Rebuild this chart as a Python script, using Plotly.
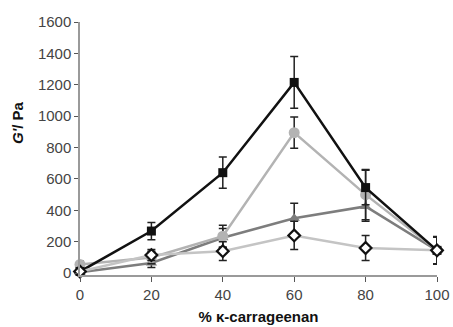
import plotly.graph_objects as go

x = [0, 20, 40, 60, 80, 100]

sq_y = [10, 268, 640, 1215, 545, 145]
sq_err = [15, 55, 100, 165, 110, 85]

circ_y = [55, 100, 235, 895, 500, 145]
circ_err = [20, 40, 70, 100, 160, 85]

tri_y = [5, 65, 225, 350, 425, 145]
tri_err = [15, 30, 60, 95, 95, 85]

dia_y = [10, 115, 140, 240, 160, 145]
dia_err = [15, 35, 60, 90, 80, 88]

xticks = [0, 20, 40, 60, 80, 100]
yticks = [0, 200, 400, 600, 800, 1000, 1200, 1400, 1600]

fig = go.Figure()

def add(yv, ev, color, symbol, mcolor, mline, size):
    fig.add_trace(go.Scatter(
        x=x, y=yv, mode="lines+markers",
        line=dict(color=color, width=2.5),
        marker=dict(symbol=symbol, color=mcolor, size=size,
                    line=dict(color=mline, width=2.2 if mcolor == "white" else 0)),
        error_y=dict(type="data", array=ev, visible=True, color="#222222",
                     thickness=1.5, width=4),
        cliponaxis=False, showlegend=False,
    ))

add(tri_y, tri_err, "#7d7d7d", "triangle-up", "#7d7d7d", "#7d7d7d", 10)
add(circ_y, circ_err, "#b3b3b3", "circle", "#b3b3b3", "#b3b3b3", 11)
add(sq_y, sq_err, "#111111", "square", "#111111", "#111111", 9)
add(dia_y, dia_err, "#c4c4c4", "diamond", "white", "#111111", 9)

W, H = 453, 327
L, R, T, B = 80, 16, 22, 52

fig.update_layout(
    width=W, height=H,
    margin=dict(l=L, r=R, t=T, b=B, autoexpand=False),
    paper_bgcolor="white", plot_bgcolor="white",
    font=dict(family="Liberation Sans, Arial, sans-serif", size=15, color="#444444"),
    xaxis=dict(range=[0, 100], tickvals=xticks, showgrid=False, zeroline=False,
               showline=True, linecolor="#9a9a9a", linewidth=1.5,
               ticks="outside", ticklen=5, tickcolor="#555555",
               title=dict(text="<b>% κ-carrageenan</b>", font=dict(size=15, color="#111111"),
                          standoff=10)),
    yaxis=dict(range=[-12, 1600], tickvals=yticks, showgrid=False, zeroline=False,
               showline=True, linecolor="#9a9a9a", linewidth=1.5,
               ticks="outside", ticklen=4, tickcolor="#555555"),
    annotations=[dict(text="<b><i>G'</i>/ Pa</b>",
                      x=(17 - L) / (W - L - R), y=(H - B - 122) / (H - T - B),
                      xref="paper", yref="paper", xanchor="center", yanchor="middle",
                      showarrow=False, textangle=-90, font=dict(size=15, color="#111111"))],
)

fig.write_html(
    "out.html",
    config={"displayModeBar": False},
    post_script="document.body.style.margin='0';document.body.style.overflow='hidden';",
)
